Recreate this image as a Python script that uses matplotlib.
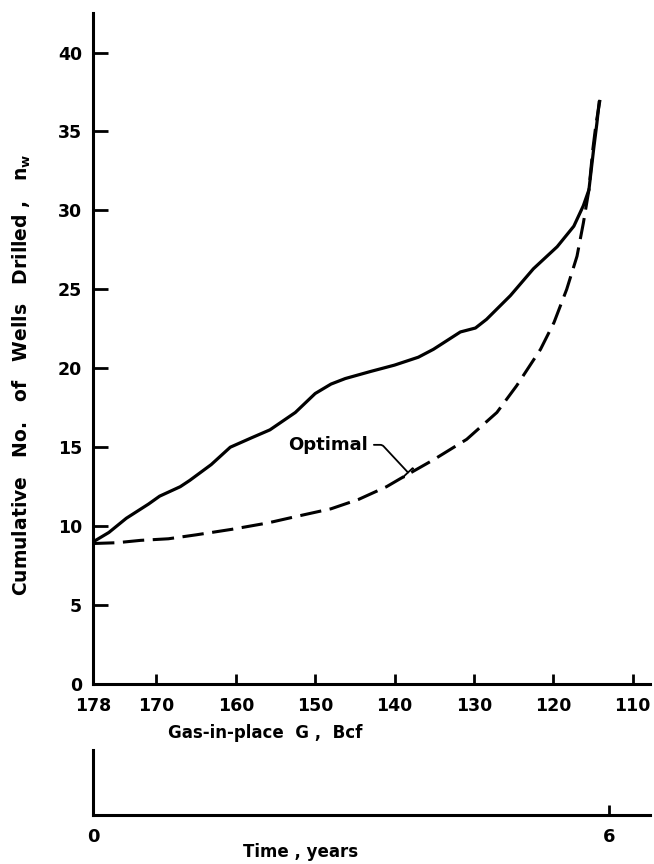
import matplotlib
matplotlib.use('Agg')
import matplotlib.pyplot as plt

# gas in place (Bcf) vs cumulative wells
gas_actual = [178, 176, 173.8, 171, 169.6, 167, 165.8, 163.1, 160.7, 158, 155.7,
              152.5, 150, 148, 146.2, 143, 140, 137, 135.1, 131.7, 129.8, 128.4,
              125.4, 122.5, 119.5, 117.4, 116.2, 115.5, 114.9, 114.5, 114.2]
wells_actual = [9.0, 9.6, 10.5, 11.4, 11.9, 12.5, 12.9, 13.9, 15.0, 15.6, 16.1,
                17.2, 18.4, 19.0, 19.35, 19.8, 20.2, 20.7, 21.2, 22.3, 22.55, 23.1,
                24.6, 26.3, 27.7, 29.0, 30.3, 31.3, 33.9, 35.5, 36.9]

gas_opt = [178, 175, 172, 168.5, 165, 160.5, 156, 152.5, 148, 144.5, 141, 139.3,
           135.1, 130.9, 127.1, 124.6, 121.6, 119.9, 118.3, 117.0, 116.2, 115.5,
           115.0, 114.6, 114.1]
wells_opt = [8.9, 8.95, 9.1, 9.2, 9.45, 9.8, 10.2, 10.6, 11.1, 11.7, 12.5, 13.0,
             14.2, 15.5, 17.2, 18.9, 21.2, 22.9, 25.0, 27.1, 29.2, 31.3,
             33.9, 35.5, 37.0]

gas_ticks = [178, 170, 160, 150, 140, 130, 120, 110]
well_ticks = [0, 5, 10, 15, 20, 25, 30, 35, 40]
time_ticks = [0, 6]

font = 'DejaVu Sans'
fig = plt.figure(figsize=(6.54, 8.64), dpi=100)

ax = fig.add_axes([0.1422, 0.2083, 0.8517, 0.7766])
ax.plot(gas_actual, wells_actual, color='black', lw=2.3, solid_capstyle='round')
ln, = ax.plot(gas_opt, wells_opt, color='black', lw=2.2)
ln.set_dashes((7, 2.8))

ax.set_xlim(178, 107.8)
ax.set_ylim(0, 42.5)
ax.set_xticks(gas_ticks)
ax.set_yticks(well_ticks)
ax.set_xticklabels([str(t) for t in gas_ticks])
for s in ['top', 'right']:
    ax.spines[s].set_visible(False)
for s in ['left', 'bottom']:
    ax.spines[s].set_linewidth(2.2)
ax.tick_params(axis='y', direction='in', length=11, width=2, pad=8)
ax.tick_params(axis='x', direction='in', length=7, width=2, pad=9)
for lab in ax.get_xticklabels() + ax.get_yticklabels():
    lab.set_fontfamily(font)
    lab.set_fontweight('bold')
    lab.set_fontsize(12.5)

ax.annotate('Optimal', xy=(138.3, 13.4), xytext=(143.3, 15.15),
            ha='right', va='center', fontsize=13, fontweight='bold', family=font,
            arrowprops=dict(arrowstyle='-[, widthB=0.35, lengthB=0.05',
                            connectionstyle='angle,angleA=0,angleB=-47,rad=2',
                            color='black', lw=1.3, shrinkA=2, shrinkB=0))

# time axis underneath
ax2 = fig.add_axes([0.1422, 0.0567, 0.8517, 0.0752])
ax2.set_xlim(0, 6.48)
ax2.set_ylim(0, 1)
ax2.set_xticks(time_ticks)
ax2.set_yticks([])
for s in ['top', 'right']:
    ax2.spines[s].set_visible(False)
for s in ['left', 'bottom']:
    ax2.spines[s].set_linewidth(2.2)
ax2.tick_params(axis='x', direction='in', length=7, width=2, pad=9)
for lab in ax2.get_xticklabels():
    lab.set_fontfamily(font)
    lab.set_fontweight('bold')
    lab.set_fontsize(13)
ax2.patch.set_alpha(0)

fig.text(22 / 654, 1 - 375 / 864, r'Cumulative   No.   of   Wells   Drilled ,   n$_\mathbf{w}$',
         rotation=90, ha='center', va='center', fontsize=13.5, fontweight='bold', family=font)
fig.text(265 / 654, 1 - 733 / 864, 'Gas-in-place  G ,  Bcf',
         ha='center', va='center', fontsize=12, fontweight='bold', family=font)
fig.text(301 / 654, 1 - 852 / 864, 'Time , years',
         ha='center', va='center', fontsize=12, fontweight='bold', family=font)

fig.savefig('out.png', dpi=100)
